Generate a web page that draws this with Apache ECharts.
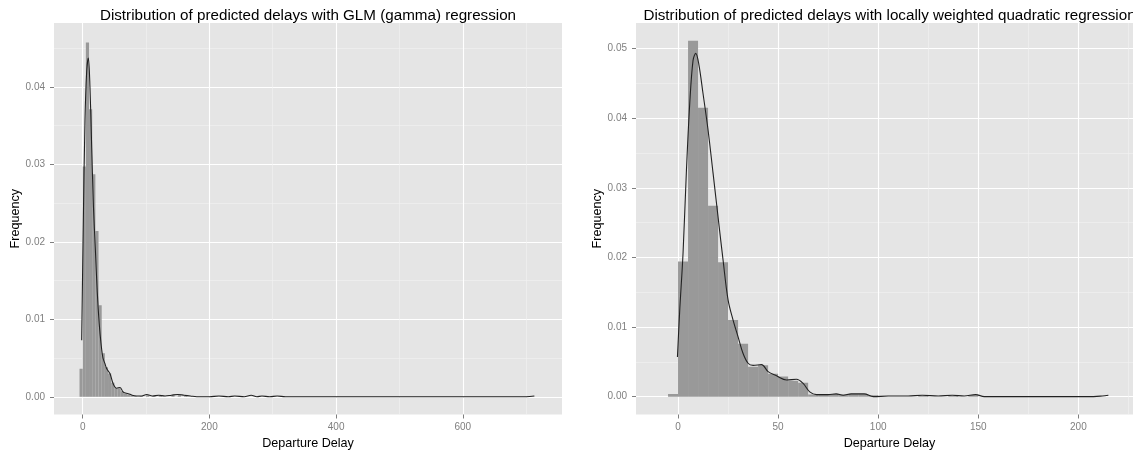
<!DOCTYPE html>
<html><head><meta charset="utf-8">
<script src="https://cdn.jsdelivr.net/npm/echarts@6/dist/echarts.min.js"></script>
<style>html,body{margin:0;padding:0;background:#fff}#c{width:1133px;height:451px}</style>
</head><body><div id="c"></div>
<script>
// ---------- data ----------
const binWidth = 5;
// GLM (gamma) panel
const glmBinStart = [-5, 0, 5, 10, 15, 20, 25, 30, 35, 40, 45, 50, 55, 60, 65, 70, 75, 80, 90, 100, 110, 120, 140, 150, 160];
const glmBinFreq  = [0.0036, 0.0297, 0.0457, 0.0371, 0.0287, 0.0214, 0.0118, 0.0056, 0.0038, 0.0030, 0.0018, 0.0011, 0.0011, 0.0007, 0.0004, 0.0003, 0.0002, 0.0001, 0.0001, 0.0002, 0.0001, 0.0001, 0.0002, 0.0002, 0.0001];
const glmDensX = [-1.6, 1, 3.6, 6.3, 8.9, 11.5, 14.2, 17, 20, 23, 26, 29, 32, 35, 38, 43, 48, 53.5, 59, 64, 72, 78, 85, 93, 101, 110, 120, 130, 140, 150, 160, 170, 180, 200, 215, 230, 240, 255, 266, 275, 283, 295, 307, 320, 400, 500, 600, 700, 713];
const glmDensY = [0.0073, 0.0227, 0.0356, 0.0420, 0.0437, 0.0399, 0.0322, 0.0245, 0.0190, 0.0135, 0.0095, 0.0068, 0.0050, 0.0043, 0.0036, 0.0030, 0.0017, 0.0011, 0.0012, 0.0006, 0.0004, 0.0002, 0.0001, 0.0001, 0.0003, 0.0001, 0.0002, 0.0001, 0.0002, 0.0003, 0.0002, 0.0001, 0.0000, 0.0000, 0.0001, 0.0000, 0.0001, 0.0000, 0.0002, 0.0000, 0.0001, 0.0000, 0.0001, 0.0000, 0.0000, 0.0000, 0.0000, 0.0000, 0.0001];
// Locally weighted quadratic regression panel
const loessBinStart = [-5, 0, 5, 10, 15, 20, 25, 30, 35, 40, 45, 50, 55, 60, 65, 70, 75, 80, 85, 90, 95, 120, 135, 145];
const loessBinFreq  = [0.0004, 0.0194, 0.0511, 0.0415, 0.0274, 0.0193, 0.0110, 0.0076, 0.0043, 0.0045, 0.0033, 0.0029, 0.0023, 0.0020, 0.0003, 0.0003, 0.0004, 0.0003, 0.0004, 0.0004, 0.0002, 0.0001, 0.0001, 0.0002];
const loessDensX = [-0.3, 0.85, 2.5, 4.2, 5.85, 7.5, 8.85, 10.35, 12.5, 15, 17.5, 20, 22.5, 25, 27.5, 30, 32.5, 35, 37.5, 41.7, 45, 49.2, 54.2, 59.2, 62.5, 65.8, 69.2, 75, 79, 82.5, 86.5, 93, 97.6, 105, 115, 122, 130, 137, 143, 148.7, 153, 170, 190, 205, 212, 215];
const loessDensY = [0.0057, 0.0124, 0.0206, 0.0325, 0.0421, 0.0483, 0.0493, 0.0478, 0.0435, 0.0383, 0.0321, 0.0258, 0.0196, 0.0139, 0.0110, 0.0086, 0.0062, 0.0048, 0.0045, 0.0046, 0.0036, 0.0030, 0.0024, 0.0025, 0.0019, 0.0007, 0.0003, 0.0003, 0.0004, 0.0002, 0.0004, 0.0004, 0.0000, 0.0001, 0.0001, 0.0002, 0.0001, 0.0002, 0.0001, 0.0003, 0.0000, 0.0000, 0.0000, 0.0000, 0.0001, 0.0002];
// ticks
const leftXTicks  = [0, 200, 400, 600];
const rightXTicks = [0, 50, 100, 150, 200];
const leftYTicks  = [0, 0.01, 0.02, 0.03, 0.04];
const rightYTicks = [0, 0.01, 0.02, 0.03, 0.04, 0.05];
const titles = ['Distribution of predicted delays with GLM (gamma) regression',
                'Distribution of predicted delays with locally weighted quadratic regression'];
const xTitle = 'Departure Delay';
const yTitle = 'Frequency';

// ---------- chart ----------
const FONT = '"Liberation Sans", Arial, Helvetica, sans-serif';
const GREY = '#7f7f7f';
const chart = echarts.init(document.getElementById('c'), null, {renderer: 'canvas'});

function zip(a, b) { return a.map((v, i) => [v, b[i]]); }
function bins(starts, freq) { return starts.map((s, i) => [s, s + binWidth, freq[i]]); }

function xAxis(gi, min, max, ticks) {
  return {
    type: 'value', gridIndex: gi, min: min, max: max,
    name: xTitle, nameLocation: 'middle', nameGap: 22,
    nameTextStyle: {color: '#000', fontSize: 12.6, fontFamily: FONT},
    axisLine: {show: false, onZero: false},
    axisTick: {show: true, length: 4, lineStyle: {color: GREY, width: 1}, customValues: ticks},
    axisLabel: {color: GREY, fontSize: 10, fontFamily: FONT, margin: 8, customValues: ticks,
                formatter: v => String(v)},
    splitLine: {show: true, lineStyle: {color: '#ffffff', width: 1.1}},
    minorTick: {show: false, splitNumber: 2},
    minorSplitLine: {show: true, lineStyle: {color: '#f2f2f2', width: 0.6}}
  };
}
function yAxis(gi, min, max, ticks) {
  return {
    type: 'value', gridIndex: gi, min: min, max: max,
    name: yTitle, nameLocation: 'middle', nameGap: 32, nameRotate: 90,
    nameTextStyle: {color: '#000', fontSize: 12.6, fontFamily: FONT},
    axisLine: {show: false, onZero: false},
    axisTick: {show: true, length: 4, lineStyle: {color: GREY, width: 1}, customValues: ticks},
    axisLabel: {color: GREY, fontSize: 10, fontFamily: FONT, margin: 9, customValues: ticks,
                formatter: v => v.toFixed(2)},
    splitLine: {show: true, lineStyle: {color: '#ffffff', width: 1.1}},
    minorTick: {show: false, splitNumber: 2},
    minorSplitLine: {show: true, lineStyle: {color: '#f2f2f2', width: 0.6}}
  };
}
function histSeries(idx, data) {
  return {
    type: 'custom', xAxisIndex: idx, yAxisIndex: idx, data: data, clip: true,
    encode: {x: [0, 1], y: 2},
    renderItem: function (params, api) {
      const p0 = api.coord([api.value(0), api.value(2)]);
      const p1 = api.coord([api.value(1), 0]);
      return {type: 'rect', shape: {x: p0[0], y: p0[1], width: p1[0] - p0[0], height: p1[1] - p0[1]},
              style: {fill: '#999999'}};
    }
  };
}
function densSeries(idx, data) {
  return {
    type: 'line', xAxisIndex: idx, yAxisIndex: idx, data: data, showSymbol: false, symbol: 'none',
    smooth: 0.35, clip: true, lineStyle: {color: '#222', width: 1.1}, z: 5
  };
}

const option = {
  animation: false,
  backgroundColor: '#ffffff',
  grid: [
    {left: 54, right: 571, top: 23, bottom: 36.5, show: true, backgroundColor: '#e5e5e5', borderWidth: 0, containLabel: false, outerBoundsMode: 'none'},
    {left: 636, right: -10, top: 23, bottom: 36.5, show: true, backgroundColor: '#e5e5e5', borderWidth: 0, containLabel: false, outerBoundsMode: 'none'}
  ],
  xAxis: [xAxis(0, -45.3, 756.6, leftXTicks), xAxis(1, -21, 232.3, rightXTicks)],
  yAxis: [yAxis(0, -0.00229, 0.04823, leftYTicks), yAxis(1, -0.00256, 0.05366, rightYTicks)],
  series: [
    histSeries(0, bins(glmBinStart, glmBinFreq)),
    densSeries(0, zip(glmDensX, glmDensY)),
    histSeries(1, bins(loessBinStart, loessBinFreq)),
    densSeries(1, zip(loessDensX, loessDensY))
  ],
  graphic: [
    {type: 'text', x: 308, y: 16, z: 10, style: {text: titles[0], font: '15.2px ' + FONT, fill: '#000',
      align: 'center', verticalAlign: 'middle', textAlign: 'center', textVerticalAlign: 'middle'}},
    {type: 'text', x: 889.5, y: 16, z: 10, style: {text: titles[1], font: '15.2px ' + FONT, fill: '#000',
      align: 'center', verticalAlign: 'middle', textAlign: 'center', textVerticalAlign: 'middle'}}
  ]
};
chart.setOption(option);
</script>
</body></html>
